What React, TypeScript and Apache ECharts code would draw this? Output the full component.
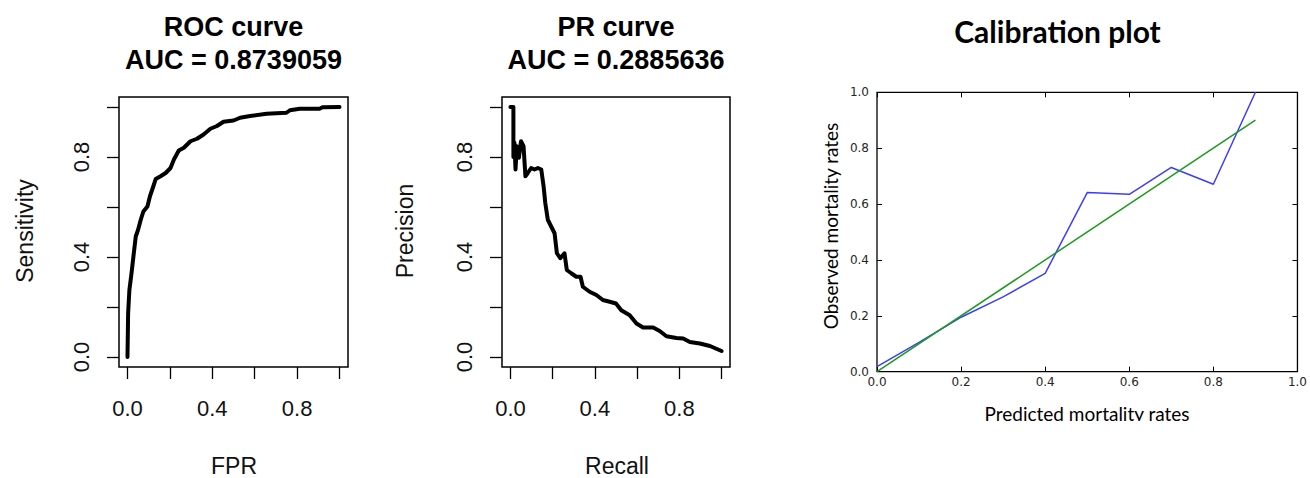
import React, { useEffect, useRef } from "react";
import * as echarts from "echarts";

// ROC curve (FPR vs Sensitivity)
const rocFpr = [0, 0.003, 0.009, 0.019, 0.028, 0.039, 0.05, 0.0625, 0.075, 0.094, 0.106, 0.122, 0.133, 0.156, 0.18, 0.203, 0.219, 0.242, 0.266, 0.297, 0.328, 0.359, 0.391, 0.422, 0.453, 0.5, 0.531, 0.578, 0.656, 0.75, 0.766, 0.8125, 0.906, 0.92, 1.0];
const rocTpr = [0, 0.174, 0.268, 0.335, 0.402, 0.482, 0.509, 0.549, 0.582, 0.602, 0.643, 0.683, 0.712, 0.723, 0.736, 0.756, 0.79, 0.826, 0.837, 0.863, 0.873, 0.89, 0.913, 0.924, 0.941, 0.946, 0.957, 0.964, 0.973, 0.977, 0.987, 0.993, 0.993, 0.999, 1.0];

// PR curve (Recall vs Precision)
const prRecall = [0, 0.014, 0.014, 0.019, 0.024, 0.03, 0.04, 0.05, 0.062, 0.071, 0.082, 0.098, 0.114, 0.13, 0.146, 0.157, 0.165, 0.177, 0.193, 0.209, 0.22, 0.236, 0.256, 0.267, 0.288, 0.312, 0.332, 0.343, 0.375, 0.407, 0.438, 0.47, 0.5, 0.525, 0.565, 0.597, 0.628, 0.676, 0.707, 0.739, 0.786, 0.818, 0.85, 0.897, 0.945, 1.0];
const prPrecision = [1.0, 1.0, 0.8, 0.857, 0.75, 0.843, 0.797, 0.863, 0.843, 0.723, 0.736, 0.756, 0.75, 0.756, 0.75, 0.683, 0.616, 0.549, 0.522, 0.495, 0.415, 0.395, 0.415, 0.348, 0.335, 0.321, 0.321, 0.281, 0.261, 0.248, 0.228, 0.221, 0.214, 0.187, 0.167, 0.134, 0.118, 0.118, 0.104, 0.083, 0.076, 0.074, 0.06, 0.054, 0.044, 0.024];

// Calibration plot
const calPredicted = [0, 0.1, 0.2, 0.3, 0.4, 0.5, 0.6, 0.7, 0.8, 0.9];
const calObserved = [0.018, 0.105, 0.195, 0.268, 0.352, 0.641, 0.635, 0.731, 0.671, 1.0];
const idealX = [0, 0.9];
const idealY = [0, 0.9];

// Tick values
const rTicks = [0, 0.2, 0.4, 0.6, 0.8, 1.0];
const rTickLabels = [0, 0.4, 0.8];

const zip = (a: number[], b: number[]) => a.map((v, i) => [v, b[i]]);

const R_FONT = "'Liberation Sans', Arial, sans-serif";
const MPL_FONT = "'DejaVu Sans', sans-serif";
const CAL_FONT = "Lato, 'Open Sans', sans-serif";

function rAxis(gridIndex: number, isX: boolean) {
  return {
    type: "value",
    gridIndex,
    position: isX ? "bottom" : "left",
    min: -0.04,
    max: 1.04,
    axisLine: { show: false, onZero: false },
    axisTick: {
      show: true,
      customValues: rTicks,
      length: 12,
      inside: false,
      lineStyle: { color: "#000", width: 1.3 },
    },
    axisLabel: {
      show: true,
      customValues: rTickLabels,
      rotate: isX ? 0 : 90,
      margin: isX ? 30 : 27,
      fontFamily: R_FONT,
      fontSize: 22,
      color: "#111",
      formatter: (v: number) => v.toFixed(1),
    },
    splitLine: { show: false },
  };
}

function calAxis(position: string, showLabels: boolean, isX: boolean) {
  return {
    type: "value",
    gridIndex: 2,
    position,
    min: 0,
    max: 1,
    interval: 0.2,
    axisLine: { show: false, onZero: false },
    axisTick: { show: true, inside: true, length: 5, lineStyle: { color: "#000", width: 1 } },
    axisLabel: {
      show: showLabels,
      margin: isX ? 4 : 8,
      fontFamily: MPL_FONT,
      fontSize: 12,
      color: "#262626",
      formatter: (v: number) => v.toFixed(1),
    },
    splitLine: { show: false },
  };
}

function textEl(text: string, x: number, y: number, font: string, rotation = 0, color = "#000") {
  return {
    type: "text",
    x,
    y,
    rotation,
    style: { text, font, fill: color, textAlign: "center", textVerticalAlign: "middle" },
  };
}

export default function App() {
  const ref = useRef<HTMLDivElement>(null);
  useEffect(() => {
    if (!ref.current) return;
    const chart = echarts.init(ref.current, undefined, { renderer: "svg" });
    const option: any = {
      animation: false,
      backgroundColor: "#fff",
      grid: [
        { left: 119, top: 97, width: 229, height: 270, show: true, borderColor: "#000", borderWidth: 1.5, backgroundColor: "transparent" },
        { left: 502, top: 97, width: 228, height: 270, show: true, borderColor: "#000", borderWidth: 1.5, backgroundColor: "transparent" },
        { left: 877, top: 92.3, width: 423, height: 279.4, show: true, borderColor: "#000", borderWidth: 1.3, backgroundColor: "transparent" },
      ],
      xAxis: [rAxis(0, true), rAxis(1, true), calAxis("bottom", true, true), calAxis("top", false, true)],
      yAxis: [rAxis(0, false), rAxis(1, false), calAxis("left", true, false), calAxis("right", false, false)],
      series: [
        {
          name: "ROC",
          type: "line",
          xAxisIndex: 0,
          yAxisIndex: 0,
          data: zip(rocFpr, rocTpr),
          showSymbol: false,
          symbol: "none",
          lineStyle: { color: "#000", width: 4, cap: "round", join: "round" },
        },
        {
          name: "PR",
          type: "line",
          xAxisIndex: 1,
          yAxisIndex: 1,
          data: zip(prRecall, prPrecision),
          showSymbol: false,
          symbol: "none",
          lineStyle: { color: "#000", width: 4, cap: "round", join: "round" },
        },
        {
          name: "Observed",
          type: "line",
          xAxisIndex: 2,
          yAxisIndex: 2,
          data: zip(calPredicted, calObserved),
          showSymbol: false,
          symbol: "none",
          lineStyle: { color: "#3d3dff", width: 1.5 },
        },
        {
          name: "Ideal",
          type: "line",
          xAxisIndex: 2,
          yAxisIndex: 2,
          data: zip(idealX, idealY),
          showSymbol: false,
          symbol: "none",
          lineStyle: { color: "#1c9a1c", width: 1.5 },
        },
      ],
      graphic: [
        textEl("ROC curve", 233.5, 26.5, `bold 27px ${R_FONT}`),
        textEl("AUC = 0.8739059", 233.5, 60, `bold 27px ${R_FONT}`),
        textEl("PR curve", 616, 26.5, `bold 27px ${R_FONT}`),
        textEl("AUC = 0.2885636", 616, 60, `bold 27px ${R_FONT}`),
        textEl("FPR", 234, 466, `23px ${R_FONT}`, 0, "#111"),
        textEl("Sensitivity", 25, 231, `23px ${R_FONT}`, Math.PI / 2, "#111"),
        textEl("Recall", 617, 466, `23px ${R_FONT}`, 0, "#111"),
        textEl("Precision", 405, 231, `23px ${R_FONT}`, Math.PI / 2, "#111"),
        textEl("Calibration plot", 1057.5, 31, `bold 30px ${CAL_FONT}`),
        textEl("Observed mortality rates", 830, 226, `19px ${CAL_FONT}`, Math.PI / 2),
        textEl("Predicted mortality rates", 1087, 413, `19px ${CAL_FONT}`),
        { type: "rect", shape: { x: 960, y: 421, width: 260, height: 20 }, style: { fill: "#fff" }, z: 100 },
      ],
    };
    chart.setOption(option);
    return () => chart.dispose();
  }, []);
  return (
    <div
      ref={ref}
      style={{ position: "fixed", left: 0, top: 0, width: 1310, height: 478, background: "#fff" }}
    />
  );
}
